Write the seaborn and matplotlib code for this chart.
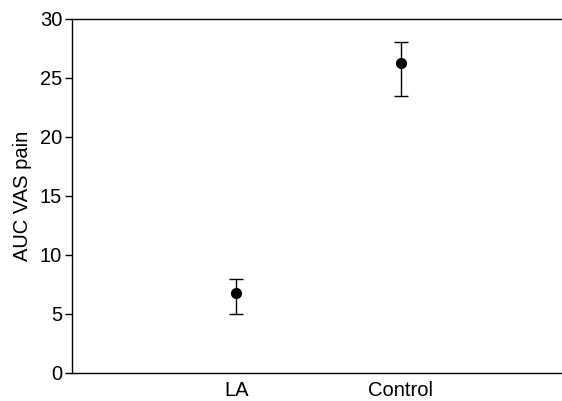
import matplotlib
matplotlib.use("Agg")
import matplotlib.pyplot as plt
import seaborn as sns
import pandas as pd

# Values
groups = ["LA", "Control"]
auc_mean = [6.75, 26.3]
auc_low = [5.0, 23.5]
auc_high = [7.95, 28.0]

df = pd.DataFrame({"group": groups, "auc": auc_mean})

sns.set_style("ticks")
plt.rcParams["font.family"] = ["Liberation Sans", "DejaVu Sans"]
plt.rcParams["text.color"] = "black"
plt.rcParams["xtick.color"] = "black"
plt.rcParams["ytick.color"] = "black"
plt.rcParams["axes.labelcolor"] = "black"

fig = plt.figure(figsize=(5.62, 4.01), dpi=100)
ax = fig.add_axes([0.128, 0.070, 0.872, 0.883])

sns.pointplot(data=df, x="group", y="auc", linestyle="none", errorbar=None,
              color="black", markersize=6, ax=ax)

# Error bars (asymmetric, drawn at the category positions)
pos = range(len(groups))
yerr = [[m - lo for m, lo in zip(auc_mean, auc_low)],
        [hi - m for m, hi in zip(auc_mean, auc_high)]]
ax.errorbar(pos, auc_mean, yerr=yerr, fmt="none", ecolor="black",
            elinewidth=1, capsize=5, capthick=1)

ax.set_xlim(-1.0, 1.98)
ax.set_ylim(0, 30)
ax.set_yticks([0, 5, 10, 15, 20, 25, 30])
ax.set_xlabel("")
ax.set_ylabel("AUC VAS pain", fontsize=14.5, labelpad=6)
ax.tick_params(axis="y", labelsize=14.5, length=5, width=1, color="black", pad=2)
ax.tick_params(axis="x", labelsize=14.5, length=0, pad=6)

for side in ["left", "bottom", "top"]:
    ax.spines[side].set_visible(True)
    ax.spines[side].set_color("black")
    ax.spines[side].set_linewidth(1)
ax.spines["right"].set_visible(False)

fig.savefig("out.png", dpi=100)
